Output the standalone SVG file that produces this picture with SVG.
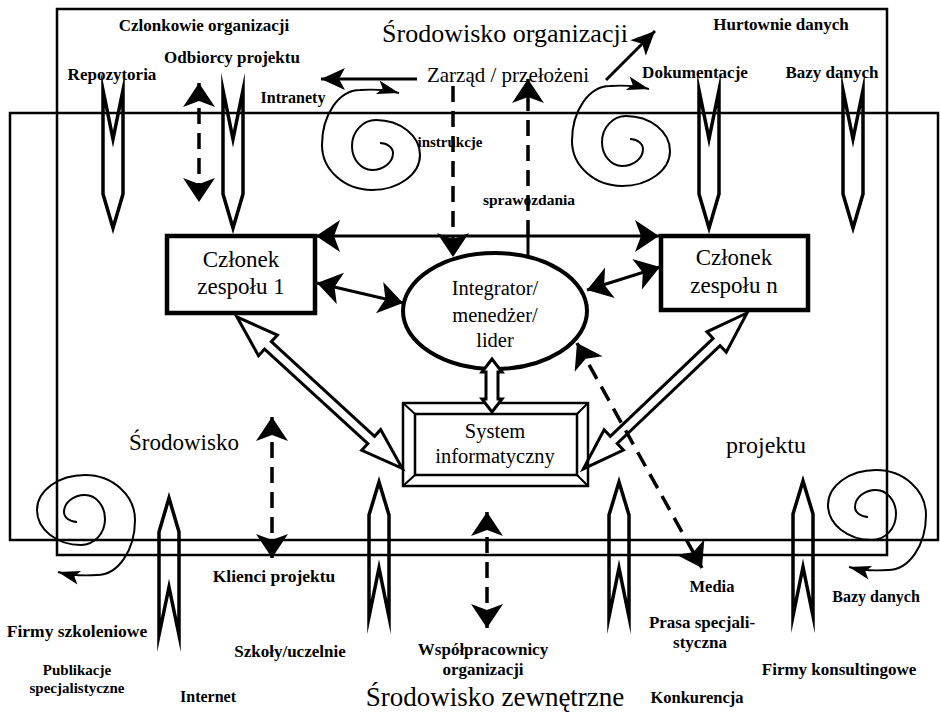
<svg xmlns="http://www.w3.org/2000/svg" width="940" height="712" viewBox="0 0 940 712">
<style>
text{font-family:"Liberation Serif","Times New Roman",serif;fill:#000}
.lb{font-size:17px;font-weight:bold;text-anchor:middle}
.nt{font-size:23px;text-anchor:middle}
.et{font-size:20.5px;text-anchor:middle}
.fr{fill:none;stroke:#000;stroke-width:2.5}
.ln{fill:none;stroke:#000;stroke-width:3}
.ds{fill:none;stroke:#000;stroke-width:3.5;stroke-dasharray:16 9}
.nd{fill:none;stroke:#000;stroke-width:3.5;stroke-linejoin:miter;stroke-miterlimit:20}
.sp{fill:none;stroke:#000;stroke-width:2}
.ha{fill:none;stroke:#000;stroke-width:3;stroke-linejoin:miter;stroke-miterlimit:20}
.box{fill:#fff;stroke:#000;stroke-width:4.5}
</style>
<defs>
<marker id="big" viewBox="-25 -17 27 34" refX="0" refY="0" markerWidth="27" markerHeight="34" markerUnits="userSpaceOnUse" orient="auto-start-reverse"><path d="M0,0 L-24,-16 L-18,0 L-24,16 Z" fill="#000"/></marker>
<marker id="med" viewBox="-25 -12 27 24" refX="0" refY="0" markerWidth="27" markerHeight="24" markerUnits="userSpaceOnUse" orient="auto-start-reverse"><path d="M0,0 L-24,-11 L-18,0 L-24,11 Z" fill="#000"/></marker>
<marker id="sm" viewBox="-23 -8 25 16" refX="0" refY="0" markerWidth="25" markerHeight="16" markerUnits="userSpaceOnUse" orient="auto"><path d="M0,0 L-22,-7 L-17,0 L-22,7 Z" fill="#000"/></marker>
<path id="spiral" d="M380,143 A13 10 0 0 1 393,153 A21 17 0 0 1 372,170 A20 24 0 0 1 352,146 A24 26 0 0 1 376,120 A44 35 0 0 1 420,155 A48 35 0 0 1 372,190 A50 45 0 0 1 322,145 A38 55 0 0 1 360,90 C375,89 388,90 399,93" class="sp" marker-end="url(#sm)"/>
</defs>
<rect width="940" height="712" fill="#fff"/>
<g id="frames">
<rect class="fr" x="57" y="9" width="830" height="546"/>
<rect class="fr" x="10" y="113" width="928" height="427"/>
</g>
<g id="spirals">
<use href="#spiral"/>
<use href="#spiral" transform="translate(250,-4)"/>
<use href="#spiral" transform="translate(-293,385) rotate(180 375 140)"/>
<use href="#spiral" transform="translate(498,380) rotate(180 375 140)"/>
</g>
<g id="flows">
<polygon class="nd" points="103,90 113,139 123,90 123,194 113,228 103,194"/>
<polygon class="nd" points="223,90 233,139 243,90 243,194 233,228 223,194"/>
<polygon class="nd" points="699,90 709,139 719,90 719,194 709,228 699,194"/>
<polygon class="nd" points="843,90 853,139 863,90 863,194 853,228 843,194"/>
<polygon class="nd" points="169,498 179,532 179,635 169,587 159,635 159,532"/>
<polygon class="nd" points="379,482 389,515 389,617 379,568 369,617 369,515"/>
<polygon class="nd" points="619,482 629,515 629,617 619,568 609,617 609,515"/>
<polygon class="nd" points="803,481 813,514 813,616 803,567 793,616 793,514"/>
</g>
<g id="labels">
<text class="lb" x="204" y="31">Czlonkowie organizacji</text>
<text x="505" y="42" style="font-size:26px;text-anchor:middle">Środowisko organizacji</text>
<text class="lb" x="781" y="30">Hurtownie danych</text>
<text class="lb" x="232" y="63">Odbiorcy projektu</text>
<text class="lb" x="112" y="80">Repozytoria</text>
<text x="508" y="82" style="font-size:21px;text-anchor:middle">Zarząd / przełożeni</text>
<text class="lb" x="695" y="78">Dokumentacje</text>
<text class="lb" x="832" y="78">Bazy danych</text>
<text class="lb" x="293" y="103" style="font-size:16px">Intranety</text>
<text class="lb" x="450" y="147" style="font-size:15px">instrukcje</text>
<text class="lb" x="529" y="205" style="font-size:15.5px">sprawozdania</text>
<text x="184" y="450" style="font-size:23px;text-anchor:middle">Środowisko</text>
<text x="766" y="453" style="font-size:24px;text-anchor:middle">projektu</text>
<text class="lb" x="274" y="582" style="font-size:17.5px">Klienci projektu</text>
<text class="lb" x="712" y="592" style="font-size:16.5px">Media</text>
<text class="lb" x="876" y="602" style="font-size:16px">Bazy danych</text>
<text class="lb" x="77" y="637" style="font-size:17.5px">Firmy szkoleniowe</text>
<text class="lb" x="290" y="657">Szkoły/uczelnie</text>
<text class="lb" x="483" y="655">Współpracownicy</text>
<text class="lb" x="483" y="675">organizacji</text>
<text class="lb" x="702" y="628">Prasa specjali-</text>
<text class="lb" x="700" y="648">styczna</text>
<text class="lb" x="77" y="675" style="font-size:15px">Publikacje</text>
<text class="lb" x="77" y="693" style="font-size:15px">specjalistyczne</text>
<text class="lb" x="839" y="675">Firmy konsultingowe</text>
<text class="lb" x="208" y="702" style="font-size:16px">Internet</text>
<text class="lb" x="697" y="703" style="font-size:16.5px">Konkurencja</text>
<text x="495" y="706" style="font-size:27px;text-anchor:middle">Środowisko zewnętrzne</text>
</g>
<g id="czlonek1">
<rect class="box" x="167" y="236" width="148" height="77"/>
<text class="nt" x="241" y="267">Członek</text>
<text class="nt" x="241" y="294">zespołu 1</text>
</g>
<g id="czlonekn">
<rect class="box" x="661" y="236" width="147" height="74"/>
<text class="nt" x="734" y="265">Członek</text>
<text class="nt" x="734" y="293">zespołu n</text>
</g>
<g id="integrator">
<ellipse cx="495" cy="311" rx="92" ry="58" fill="#fff" stroke="#000" stroke-width="4"/>
<text class="et" x="495" y="295">Integrator/</text>
<text class="et" x="495" y="322">menedżer/</text>
<text class="et" x="495" y="347">lider</text>
</g>
<g id="system">
<rect x="403" y="403" width="185" height="83" fill="#fff" stroke="#000" stroke-width="2.5"/>
<rect x="415" y="414" width="162" height="61" fill="none" stroke="#000" stroke-width="2.5"/>
<path d="M403,403 L415,414 M588,403 L577,414 M403,486 L415,475 M588,486 L577,475" stroke="#000" stroke-width="2"/>
<text class="et" x="495" y="438">System</text>
<text class="et" x="495" y="463">informatyczny</text>
</g>
<g id="connectors">
<line class="ln" x1="316" y1="236" x2="659" y2="236" marker-start="url(#big)" marker-end="url(#big)"/>
<line class="ln" x1="317" y1="283" x2="403" y2="303" marker-start="url(#big)" marker-end="url(#big)"/>
<line class="ln" x1="660" y1="267" x2="587" y2="290" marker-start="url(#big)" marker-end="url(#big)"/>
<line class="ln" x1="417" y1="79" x2="321" y2="79" marker-end="url(#med)"/>
<line class="ln" x1="606" y1="80" x2="655" y2="31" marker-end="url(#med)"/>
<line class="ds" x1="453" y1="86" x2="453" y2="257" marker-end="url(#big)"/>
<line class="ln" x1="528" y1="255" x2="528" y2="236"/>
<line class="ds" x1="528" y1="236" x2="528" y2="79" marker-end="url(#big)"/>
<line class="ds" x1="199" y1="83" x2="199" y2="202" marker-start="url(#big)" marker-end="url(#big)"/>
<line class="ds" x1="272" y1="417" x2="272" y2="558" marker-start="url(#big)" marker-end="url(#big)"/>
<line class="ds" x1="487" y1="512" x2="487" y2="628" marker-start="url(#big)" marker-end="url(#big)"/>
<line class="ds" x1="577" y1="343" x2="702" y2="568" marker-start="url(#big)" marker-end="url(#big)"/>
<polygon class="ha" transform="translate(237,317) rotate(42.5)" points="0,0 42,14 42,5 182,5 182,14 224,0 182,-14 182,-5 42,-5 42,-14"/>
<polygon class="ha" transform="translate(747,313) rotate(136.4)" points="0,0 42,14 42,5 184,5 184,14 226,0 184,-14 184,-5 42,-5 42,-14"/>
<polygon class="ha" style="fill:#fff" transform="translate(492,359) rotate(90)" points="0,0 13,10 13,6 40,6 40,10 53,0 40,-10 40,-6 13,-6 13,-10"/>
</g>
</svg>
